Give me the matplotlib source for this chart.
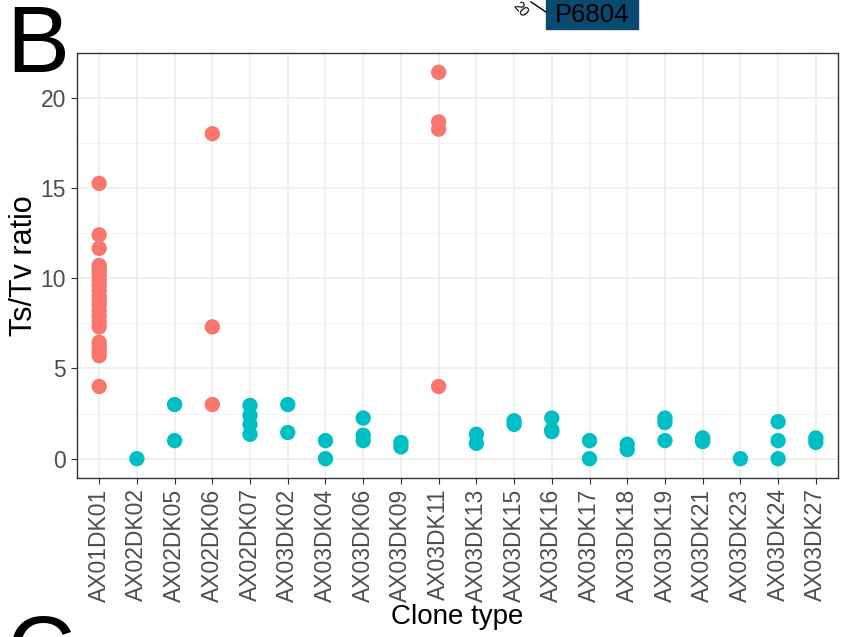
import matplotlib
matplotlib.use("Agg")
import matplotlib.pyplot as plt
import numpy as np

plt.rcParams['font.family'] = ['Liberation Sans', 'DejaVu Sans']

clones = ['AX01DK01', 'AX02DK02', 'AX02DK05', 'AX02DK06', 'AX02DK07',
          'AX03DK02', 'AX03DK04', 'AX03DK06', 'AX03DK09', 'AX03DK11',
          'AX03DK13', 'AX03DK15', 'AX03DK16', 'AX03DK17', 'AX03DK18',
          'AX03DK19', 'AX03DK21', 'AX03DK23', 'AX03DK24', 'AX03DK27']

# Ts/Tv ratios per clone
ratios = [
    [15.25, 12.4, 11.65, 10.7, 10.5, 10.3, 10.1, 9.85, 9.6, 9.3, 9.0, 8.75,
     8.5, 8.2, 7.9, 7.6, 7.3, 6.45, 6.2, 5.95, 5.7, 4.0],
    [0.0],
    [3.0, 1.0],
    [18.0, 7.3, 3.0],
    [2.95, 2.4, 1.9, 1.35],
    [3.0, 1.45],
    [1.0, 0.0],
    [2.25, 1.3, 1.0],
    [0.9, 0.65],
    [21.4, 18.65, 18.25, 4.0],
    [1.35, 0.85],
    [2.1, 1.9],
    [2.25, 1.6, 1.5],
    [1.0, 0.0],
    [0.8, 0.5],
    [2.25, 2.0, 1.0],
    [1.15, 0.95],
    [0.0],
    [2.05, 1.0, 0.0],
    [1.15, 0.9],
]
# which clones fall in the high-ratio group
high_group = ['AX01DK01', 'AX02DK06', 'AX03DK11']

fig = plt.figure(figsize=(8.42, 6.37), dpi=100)
ax = fig.add_axes([0.0909, 0.2496, 0.9049, 0.6672])

for i, (c, vals) in enumerate(zip(clones, ratios)):
    col = '#F8766D' if c in high_group else '#00BFC4'
    ax.scatter(np.full(len(vals), i), vals, s=122, color=col,
               edgecolors='none', zorder=3)

ax.set_xlim(-0.6, len(clones) - 0.4)
ax.set_ylim(-1.07, 22.47)
ax.set_xticks(range(len(clones)))
ax.set_xticklabels(clones, rotation=90, fontsize=16.5, color='#4D4D4D')
ax.set_yticks([0, 5, 10, 15, 20])
ax.set_yticks([2.5, 7.5, 12.5, 17.5], minor=True)
ax.tick_params(axis='y', labelsize=16.5, labelcolor='#4D4D4D')
ax.tick_params(which='major', length=4, width=0.8, color='#333333')
ax.tick_params(which='minor', length=0)
ax.grid(True, which='major', color='#EBEBEB', linewidth=1.1, zorder=0)
ax.grid(True, which='minor', axis='y', color='#F2F2F2', linewidth=0.6, zorder=0)
ax.set_axisbelow(True)
for sp in ax.spines.values():
    sp.set_color('#333333')
    sp.set_linewidth(1.0)

ax.set_xlabel('Clone type', fontsize=20, labelpad=2)
ax.set_ylabel('Ts/Tv ratio', fontsize=22, labelpad=1.5)

# panel letters and cropped pieces from the neighbouring panel
fig.text(0.007, 0.887, 'B', fontsize=68, va='baseline', ha='left')
fig.text(0.008, -0.07, 'C', fontsize=68, va='baseline', ha='left')
fig.patches.append(plt.Rectangle((546 / 842, 1 - 29 / 637), 92 / 842, 29 / 637,
                                  transform=fig.transFigure, color='#0B4A70',
                                  zorder=1))
fig.text(592 / 842, 1 - 22 / 637, 'P6804', fontsize=18.5, ha='center',
         va='baseline', color='black', zorder=2)
fig.text(520 / 842, 1 - 9 / 637, '20', fontsize=10, rotation=-50,
         ha='center', va='center')
fig.add_artist(plt.Line2D([531 / 842, 546 / 842], [1 - 2 / 637, 1 - 12 / 637],
                          transform=fig.transFigure, color='black', lw=1))

fig.savefig('out.png', dpi=100)
